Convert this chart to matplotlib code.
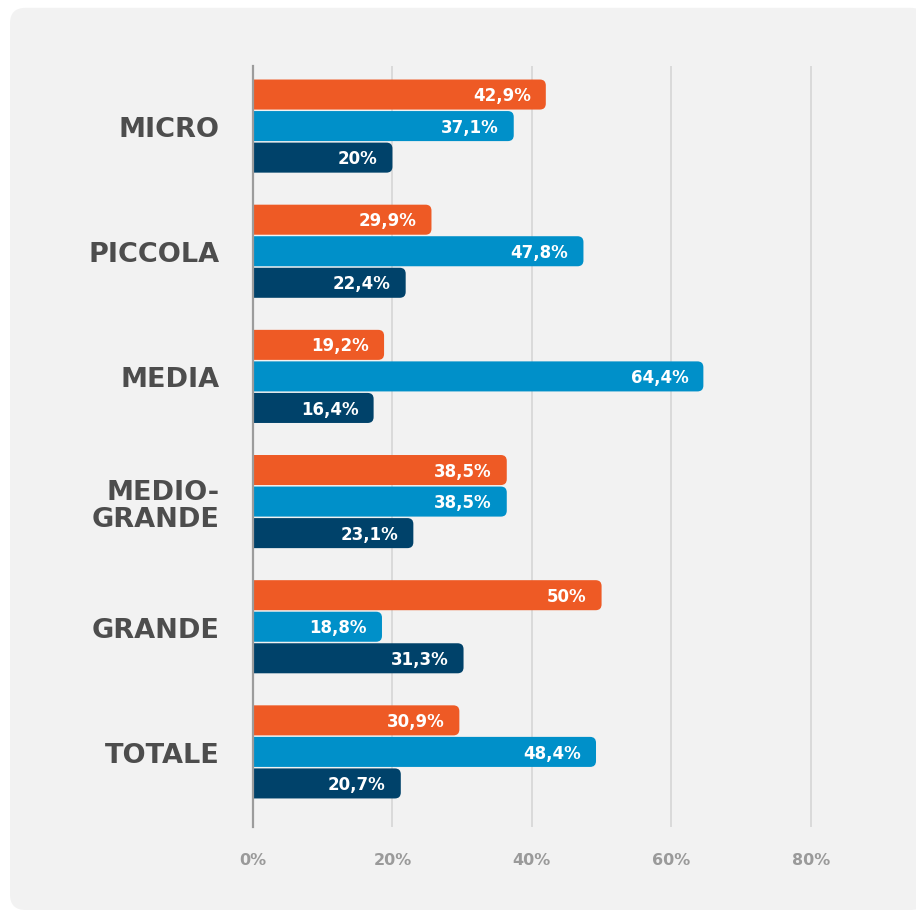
"""Grouped horizontal bars: quota per classe dimensionale."""

import matplotlib
matplotlib.use("Agg")
import matplotlib.pyplot as plt
import numpy as np
from matplotlib.patches import FancyBboxPatch

categories = ["MICRO", "PICCOLA", "MEDIA", "MEDIO-\nGRANDE", "GRANDE", "TOTALE"]
# printed values
labels_a = ["42,9%", "29,9%", "19,2%", "38,5%", "50%", "30,9%"]
labels_b = ["37,1%", "47,8%", "64,4%", "38,5%", "18,8%", "48,4%"]
labels_c = ["20%", "22,4%", "16,4%", "23,1%", "31,3%", "20,7%"]
# bar lengths as drawn in the source (they do not always match the labels)
serie_a = [42.0, 25.6, 18.8, 36.4, 50.0, 29.6]
serie_b = [37.4, 47.4, 64.6, 36.4, 18.5, 49.2]
serie_c = [20.0, 21.9, 17.3, 23.0, 30.2, 21.2]
tick_values = [0, 20, 40, 60, 80]

COLORS = ["#EE5A25", "#0090C9", "#00426A"]
BG = "#F2F2F2"

W, H = 916, 912
fig = plt.figure(figsize=(W / 100, H / 100), dpi=100)
fig.patch.set_facecolor("white")

# rounded light panel behind everything
panel = FancyBboxPatch(
    (10 / W, 1 / H), 1.0, (911 - 7) / H - 0.002,
    boxstyle="round,pad=0,rounding_size=0.017",
    mutation_aspect=W / H,
    transform=fig.transFigure, facecolor=BG, edgecolor="none", zorder=-10,
)
fig.patches.append(panel)

ax_left, ax_right = 253 / W, 916 / W
ax_top, ax_bottom = 1 - 67 / H, 1 - 828 / H
ax = fig.add_axes([ax_left, ax_bottom, ax_right - ax_left, ax_top - ax_bottom])
ax.set_facecolor("none")
ax.set_zorder(2)

x_max = 95.1
ax.set_xlim(0, x_max)
ax.set_ylim(5.6, -0.48)

y = np.arange(len(categories))
offset = 0.252
height = 0.24

# px per data unit, used to make round corners look circular
px_x = (916 - 253) / x_max
px_y = (828 - 67) / 6.08
rnd = 0.85

groups = zip([serie_a, serie_b, serie_c], [labels_a, labels_b, labels_c], COLORS)
for k, (vals, texts, col) in enumerate(groups):
    pos = y + (k - 1) * offset
    bars = ax.barh(pos, vals, height=height, color=col)
    for bar, txt in zip(bars, texts):
        bar.set_visible(False)
        ax.add_patch(FancyBboxPatch(
            (bar.get_x() - 3, bar.get_y()), bar.get_width() + 3, bar.get_height(),
            boxstyle=f"round,pad=0,rounding_size={rnd}",
            mutation_aspect=px_x / px_y,
            facecolor=col, edgecolor="none", zorder=3, clip_on=True,
        ))
        ax.text(bar.get_width() - 2.15, bar.get_y() + bar.get_height() / 2 + 0.005,
                txt, ha="right", va="center", color="white", fontsize=12,
                fontweight="bold", zorder=4)

ax.set_yticks(y)
ax.set_yticklabels(categories, fontsize=19.5, fontweight="bold",
                   color="#4D4D4D", linespacing=1.05)
ax.set_xticks(tick_values)
ax.set_xticklabels([f"{t}%" for t in tick_values], fontsize=11.5,
                   fontweight="bold", color="#9A9A9A")
ax.tick_params(axis="x", length=0, pad=18)
ax.tick_params(axis="y", length=0, pad=24)

ax.grid(axis="x", color="#D3D3D3", linewidth=1.1, zorder=1)
ax.set_axisbelow(True)
for side in ["top", "right", "bottom"]:
    ax.spines[side].set_visible(False)
ax.spines["left"].set_color("#9C9C9C")
ax.spines["left"].set_linewidth(1.6)
ax.spines["left"].set_zorder(5)

fig.savefig("out.png", dpi=100, facecolor="white")
